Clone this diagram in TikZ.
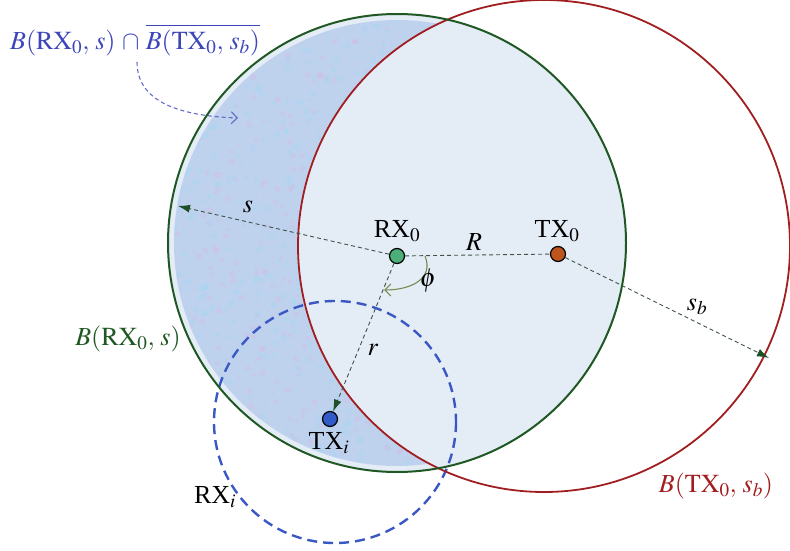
\documentclass[tikz,border=0pt]{standalone}
\usepackage{amsmath,amssymb}
\usepackage{mathptmx}
\usepackage{fontspec}
\setmainfont{Liberation Serif}
\usepackage{tikz}
\usetikzlibrary{arrows.meta}
\usepackage{xcolor}
\definecolor{ballgreen}{RGB}{32,88,36}
\definecolor{ballred}{RGB}{160,30,32}
\definecolor{ballblue}{RGB}{58,88,196}
\definecolor{labblue}{RGB}{60,70,185}
\definecolor{diskfill}{RGB}{228,236,246}
\definecolor{crescent}{RGB}{190,210,238}
\definecolor{speckpink}{RGB}{214,186,226}
\definecolor{speckcyan}{RGB}{170,214,242}
\definecolor{radgray}{RGB}{62,84,72}
\definecolor{tipgreen}{RGB}{30,80,40}
\definecolor{phicol}{RGB}{120,140,80}
\tikzset{
  dot/.style={circle,draw=black,line width=1.2pt,minimum size=15pt,inner sep=0pt},
  radius line/.style={draw=radgray,line width=0.9pt,dash pattern=on 4pt off 3pt},
  radius tip/.style={-{Latex[length=12pt,width=8pt,fill=tipgreen,color=tipgreen]}},
  open tip/.style={-{Straight Barb[length=6pt,width=12pt]}},
  lab/.style={font=\fontsize{26}{30}\selectfont,inner sep=1pt}
}
\begin{document}
\begin{tikzpicture}[x=1pt,y=-1pt]
\useasboundingbox (0,0) rectangle (790,551);
% disks
\fill[diskfill] (397,243) circle (229);
\begin{scope}
\clip (397,243) circle (223);
\fill[crescent,even odd rule] (0,0) rectangle (790,551) (544,246) circle (246);
\begin{scope}[even odd rule]
\clip (0,0) rectangle (790,551) (544,246) circle (246);
\pgfmathsetseed{7}
\foreach \i in {1,...,600} {\fill[speckpink,opacity=0.35] (150+rnd*260,10+rnd*470) circle (1+rnd*2.5);}
\foreach \i in {1,...,600} {\fill[speckcyan,opacity=0.45] (150+rnd*260,10+rnd*470) circle (1+rnd*2.5);}
\end{scope}
\end{scope}
\draw[ballblue,line width=2.4pt,dash pattern=on 10pt off 6pt] (335,422) circle (121);
\draw[ballred,line width=1.8pt] (544,246) circle (246);
\draw[ballgreen,line width=2pt] (397,243) circle (229);

% points
\node[dot,fill={rgb,255:red,76;green,175;blue,122}] (rx0) at (397,256) {};
\node[dot,fill={rgb,255:red,190;green,84;blue,30}] (tx0) at (558,254) {};
\node[dot,fill={rgb,255:red,50;green,90;blue,200}] (txi) at (330,419) {};
\coordinate (sEnd) at (178,206);
\coordinate (sbEnd) at (769,358);

\draw[radius line,radius tip] (rx0) -- (sEnd);
\draw[radius line] (rx0) -- (tx0);
\draw[radius line,radius tip] (tx0) -- (sbEnd);
\draw[radius line,radius tip] (rx0) -- (txi);

% angle phi
\coordinate (phiA) at (425,256);
\coordinate (phiB) at (384,290);
\draw[phicol,line width=1.1pt,open tip] (phiA) .. controls (434,278) and (412,290) .. (phiB);

% labels
\node[lab] (rx0lab) at (397,231) {RX$_0$};
\node[lab] (tx0lab) at (557,231) {TX$_0$};
\node[lab] (txilab) at (329,443) {TX$_i$};
\node[lab] (rxilab) at (215,497) {RX$_i$};
\node[lab] (Rlab) at (474,242) {$R$};
\node[lab] (slab) at (248,207) {$s$};
\node[lab] (sblab) at (697,307) {$s_b$};
\node[lab] (rlab) at (373,350) {$r$};
\node[lab] (philab) at (428,281) {$\phi$};
\node[lab,text=ballgreen] (ballrx) at (128,339) {$B(\mathrm{RX}_0,\,s)$};
\node[lab,text=ballred] (balltx) at (716,486) {$B(\mathrm{TX}_0,\,s_b)$};
\node[lab,text=labblue] (inter) at (135,40) {$B(\mathrm{RX}_0,\,s)\,\cap\,\overline{B(\mathrm{TX}_0,\,s_b)}$};
\coordinate (interEnd) at (238,118);
\draw[labblue!80,line width=1.1pt,dash pattern=on 4pt off 3pt,open tip] (137,62) .. controls (137,102) and (180,116) .. (interEnd);
\end{tikzpicture}
\end{document}
